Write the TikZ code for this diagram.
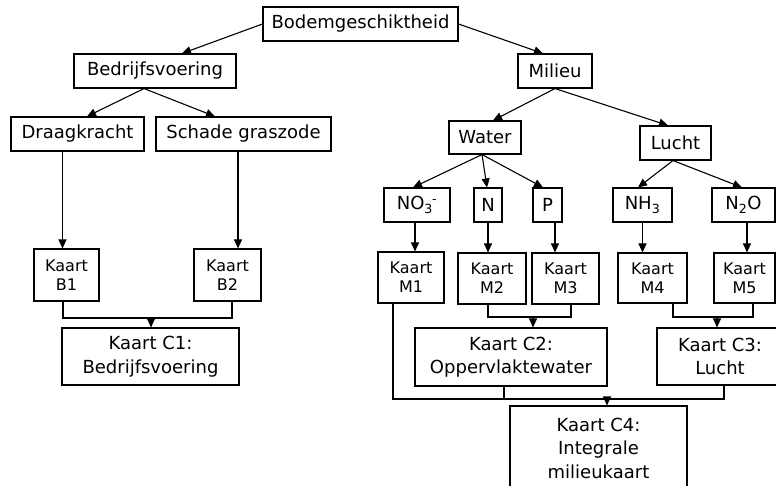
\documentclass[tikz,border=0pt]{standalone}
\usepackage{fontspec}
\setmainfont{DejaVu Sans}
\usetikzlibrary{arrows.meta}
\begin{document}
\begin{tikzpicture}[x=1pt,y=-1pt,line width=1.1pt,
  bx/.style={draw, inner sep=0pt, font=\fontsize{18}{23.5}\selectfont, align=center},
  sbx/.style={draw, inner sep=0pt, font=\fontsize{16}{19}\selectfont, align=center},
  arr/.style={-{Triangle[length=9pt,width=8pt]}}]
\useasboundingbox (0,0) rectangle (776,486);
\fill[white] (0,0) rectangle (776,486);
\clip (0,0) rectangle (776,486);
% level 0-1
\node[bx, minimum width=195pt, minimum height=34pt] (bodem) at (360.5,24) {Bodemgeschiktheid};
\node[bx, minimum width=162pt, minimum height=34pt] (bedr) at (155,71) {Bedrijfsvoering};
\node[bx, minimum width=74pt, minimum height=34pt] (milieu) at (555,71) {Milieu};
% level 2
\node[bx, minimum width=133pt, minimum height=34pt] (draag) at (77.5,134) {Draagkracht};
\node[bx, minimum width=175pt, minimum height=34pt] (schade) at (243.5,134) {Schade graszode};
\node[bx, minimum width=72pt, minimum height=33pt] (water) at (485,137.5) {Water};
\node[bx, minimum width=71pt, minimum height=34pt] (lucht) at (675.5,143) {Lucht};
% level 3
\node[bx, minimum width=66pt, minimum height=34pt] (no3) at (417,205) {NO\textsubscript{3}\kern-0.05em\textsuperscript{-}};
\node[bx, minimum width=28pt, minimum height=34pt] (n) at (488,205) {N};
\node[bx, minimum width=29pt, minimum height=34pt] (p) at (547.5,205) {P};
\node[bx, minimum width=59pt, minimum height=34pt] (nh3) at (642.5,205) {NH\textsubscript{3}};
\node[bx, minimum width=63pt, minimum height=34pt] (n2o) at (743.5,205) {N\textsubscript{2}O};
% kaarten
\node[sbx, minimum width=65pt, minimum height=52pt] (b1) at (66.5,275) {Kaart\\B1};
\node[sbx, minimum width=67pt, minimum height=52pt] (b2) at (227.5,275) {Kaart\\B2};
\node[sbx, minimum width=66pt, minimum height=51pt] (m1) at (411,277.5) {Kaart\\M1};
\node[sbx, minimum width=68pt, minimum height=51pt] (m2) at (492,278.5) {Kaart\\M2};
\node[sbx, minimum width=67pt, minimum height=51pt] (m3) at (565.5,278.5) {Kaart\\M3};
\node[sbx, minimum width=69pt, minimum height=50pt] (m4) at (652.5,278) {Kaart\\M4};
\node[sbx, minimum width=61pt, minimum height=50pt] (m5) at (744.5,278) {Kaart\\M5};
% C maps
\node[bx, minimum width=177pt, minimum height=57pt] (c1) at (150.5,356.5) {Kaart C1:\\Bedrijfsvoering};
\node[bx, minimum width=192pt, minimum height=58pt] (c2) at (511,357) {Kaart C2:\\Oppervlaktewater};
\node[bx, minimum width=126pt, minimum height=57pt] (c3) at (720,356.5) {Kaart C3:\\Lucht};
\node[bx, minimum width=177pt, minimum height=84pt] (c4) at (598.5,448) {Kaart C4:\\Integrale\\milieukaart};
% tree arrows
\draw[arr] (bodem.west) -- ([xshift=27pt]bedr.north);
\draw[arr] (bodem.east) -- ([xshift=-12pt]milieu.north);
\draw[arr] ([xshift=-11pt]bedr.south) -- ([xshift=9.5pt]draag.north);
\draw[arr] ([xshift=-11pt]bedr.south) -- ([xshift=-28.5pt]schade.north);
\draw[arr] (milieu.south) -- ([xshift=8pt]water.north);
\draw[arr] (milieu.south) -- ([xshift=-7.5pt]lucht.north);
\draw[arr] ([xshift=-3pt]water.south) -- ([xshift=-4pt]no3.north);
\draw[arr] ([xshift=-3pt]water.south) -- ([xshift=-1pt]n.north);
\draw[arr] ([xshift=-3pt]water.south) -- ([xshift=-4.5pt]p.north);
\draw[arr] ([xshift=-2.5pt]lucht.south) -- ([xshift=-4.5pt]nh3.north);
\draw[arr] ([xshift=-2.5pt]lucht.south) -- ([xshift=-1.5pt]n2o.north);
% vertical arrows
\coordinate (vd) at ([xshift=-15pt]draag.south);
\coordinate (vs) at ([xshift=-5.5pt]schade.south);
\coordinate (vno) at ([xshift=-2pt]no3.south);
\coordinate (vn) at (n.south);
\coordinate (vp) at ([xshift=7.5pt]p.south);
\coordinate (vnh) at (nh3.south);
\coordinate (vno2) at ([xshift=3.5pt]n2o.south);
\draw[arr] (vd) -- (vd |- b1.north);
\draw[arr] (vs) -- (vs |- b2.north);
\draw[arr] (vno) -- (vno |- m1.north);
\draw[arr] (vn) -- (vn |- m2.north);
\draw[arr] (vp) -- (vp |- m3.north);
\draw[arr] (vnh) -- (vnh |- m4.north);
\draw[arr] (vno2) -- (vno2 |- m5.north);
% merge B1/B2 -> C1
\coordinate (j1) at (151,318);
\coordinate (xb1) at ([xshift=-3.5pt]b1.south);
\coordinate (xb2) at ([xshift=4.5pt]b2.south);
\draw (xb1) -- (xb1 |- j1) -- (xb2 |- j1) -- (xb2);
\draw[arr] (j1) -- (j1 |- c1.north);
% merge M2/M3 -> C2
\coordinate (j2) at (533,317);
\coordinate (xm2) at ([xshift=-4pt]m2.south);
\coordinate (xm3) at ([xshift=5.5pt]m3.south);
\draw (xm2) -- (xm2 |- j2) -- (xm3 |- j2) -- (xm3);
\draw[arr] (j2) -- (j2 |- c2.north);
% merge M4/M5 -> C3
\coordinate (j3) at (717,317);
\coordinate (xm4) at ([xshift=20.5pt]m4.south);
\coordinate (xm5) at ([xshift=8.5pt]m5.south);
\draw (xm4) -- (xm4 |- j3) -- (xm5 |- j3) -- (xm5);
\draw[arr] (j3) -- (j3 |- c3.north);
% merge M1, C2, C3 -> C4
\coordinate (j4) at (607,399);
\coordinate (xm1) at ([xshift=-18pt]m1.south);
\coordinate (xc2) at ([xshift=-7pt]c2.south);
\coordinate (xc3) at ([xshift=4pt]c3.south);
\draw (xm1) -- (xm1 |- j4) -- (xc3 |- j4) -- (xc3);
\draw (xc2) -- (xc2 |- j4);
\draw[arr] (j4) -- (j4 |- c4.north);
\end{tikzpicture}
\end{document}
